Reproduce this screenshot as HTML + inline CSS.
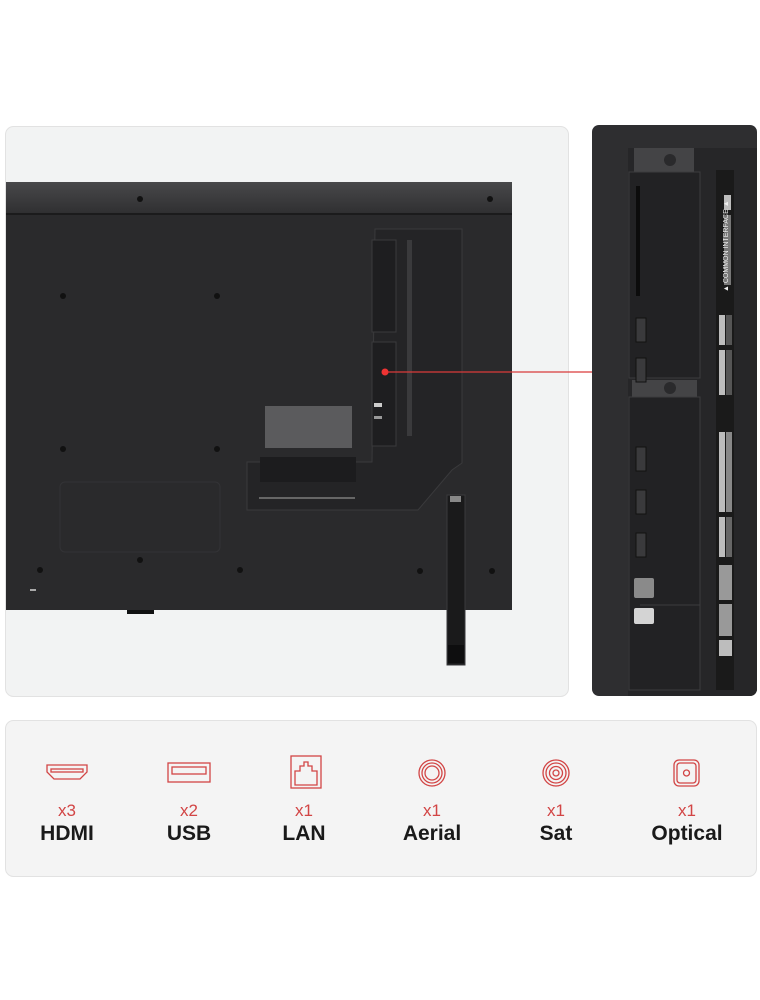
<!DOCTYPE html>
<html><head><meta charset="utf-8"><style>
html,body{margin:0;padding:0;background:#fff;width:760px;height:1000px;overflow:hidden}
svg{display:block}
</style></head><body>
<svg width="760" height="1000" viewBox="0 0 760 1000" xmlns="http://www.w3.org/2000/svg" font-family="Liberation Sans, sans-serif">
<defs>
<linearGradient id="tvtop" x1="0" y1="0" x2="0" y2="1"><stop offset="0" stop-color="#48484a"/><stop offset="1" stop-color="#303032"/></linearGradient>
<clipPath id="rp"><rect x="592" y="125" width="165" height="571" rx="7"/></clipPath>
</defs>
<rect x="5.5" y="126.5" width="563" height="570" rx="8" fill="#f2f3f3" stroke="#e2e2e2"/>
<rect x="6" y="182" width="506" height="428" fill="#2a2a2c"/>
<rect x="6" y="182" width="506" height="31" fill="url(#tvtop)"/>
<rect x="6" y="213" width="506" height="2" fill="#1b1b1c"/>
<g fill="#111">
<circle cx="140" cy="199" r="3"/><circle cx="490" cy="199" r="3"/>
<circle cx="63" cy="296" r="3"/><circle cx="217" cy="296" r="3"/>
<circle cx="63" cy="449" r="3"/><circle cx="217" cy="449" r="3"/>
<circle cx="140" cy="560" r="3"/><circle cx="40" cy="570" r="3"/><circle cx="240" cy="570" r="3"/>
<circle cx="420" cy="571" r="3"/><circle cx="492" cy="571" r="3"/>
</g>
<rect x="60" y="482" width="160" height="70" rx="5" fill="none" stroke="#333336"/>
<rect x="127" y="610" width="27" height="4" fill="#111"/>
<rect x="30" y="589" width="6" height="2" fill="#aaa"/>
<path d="M375 229 H462 V463 L452 470 L418 510 H247 V462 H372 Z" fill="#242426" stroke="#3a3a3c"/>
<rect x="372" y="240" width="24" height="92" fill="#1e1e20" stroke="#3a3a3c"/>
<rect x="372" y="342" width="24" height="104" fill="#1e1e20" stroke="#3a3a3c"/>
<rect x="407" y="240" width="5" height="196" fill="#3a3a3c"/>
<rect x="374" y="403" width="8" height="4" fill="#ccc"/><rect x="374" y="416" width="8" height="3" fill="#999"/>
<rect x="265" y="406" width="87" height="42" fill="#5b5b5d"/>
<rect x="260" y="457" width="96" height="25" fill="#1c1c1e"/>
<rect x="259" y="497" width="96" height="2" fill="#666"/>
<rect x="447" y="495" width="18" height="170" fill="#1a1a1b" stroke="#3a3a3c"/>
<rect x="450" y="496" width="11" height="6" fill="#888"/>
<rect x="448" y="645" width="16" height="18" fill="#0e0e0f"/>
<line x1="385" y1="372" x2="592" y2="372" stroke="#d93a3a" stroke-width="1.2"/>
<circle cx="385" cy="372" r="3.5" fill="#e33"/>
<g clip-path="url(#rp)">
<rect x="592" y="125" width="165" height="571" fill="#2e2e30"/>
<path d="M628 148 H757 V697 H628 Z" fill="#262628"/>
<rect x="634" y="148" width="60" height="24" fill="#444446"/>
<circle cx="670" cy="160" r="6" fill="#2a2a2c"/>
<rect x="629" y="172" width="71" height="206" fill="#222224" stroke="#3c3c3e"/>
<rect x="636" y="186" width="4" height="110" fill="#0c0c0c"/>
<rect x="632" y="380" width="65" height="17" fill="#444446"/>
<circle cx="670" cy="388" r="6" fill="#2a2a2c"/>
<rect x="629" y="397" width="71" height="293" fill="#222224" stroke="#3c3c3e"/>
<line x1="640" y1="605" x2="700" y2="605" stroke="#3c3c3e"/>
<g fill="#3a3a3c" stroke="#111">
<rect x="636" y="318" width="10" height="24"/><rect x="636" y="358" width="10" height="24"/>
<rect x="636" y="447" width="10" height="24"/><rect x="636" y="490" width="10" height="24"/>
<rect x="636" y="533" width="10" height="24"/>
</g>
<rect x="634" y="578" width="20" height="20" rx="2" fill="#8a8a8a"/>
<rect x="634" y="608" width="20" height="16" rx="2" fill="#d4d4d4"/>
<rect x="716" y="170" width="18" height="520" fill="#1a1a1a"/>
<g fill="#bdbdbd">
<rect x="724" y="195" width="7" height="15"/><rect x="724" y="215" width="7" height="70" fill="#777"/>
<rect x="719" y="315" width="6" height="30"/><rect x="726" y="315" width="6" height="30" fill="#555"/>
<rect x="719" y="350" width="6" height="45"/><rect x="726" y="350" width="6" height="45" fill="#555"/>
<rect x="719" y="432" width="6" height="80"/><rect x="726" y="432" width="6" height="80" fill="#888"/>
<rect x="719" y="517" width="6" height="40"/><rect x="726" y="517" width="6" height="40" fill="#666"/>
<rect x="719" y="565" width="13" height="35" fill="#999"/><rect x="719" y="604" width="13" height="32" fill="#999"/>
<rect x="719" y="640" width="13" height="16"/>
</g>
<text transform="translate(728,292) rotate(-90)" font-size="7" fill="#eee">▲ COMMON INTERFACE ▲</text>
</g>
<rect x="5.5" y="720.5" width="751" height="156" rx="8" fill="#f4f4f4" stroke="#e2e2e2"/>
<g fill="none" stroke="#d24545" stroke-width="1.3">
<path d="M47 765 H87 V772 L80 779 H54 L47 772 Z"/><rect x="51" y="769" width="32" height="3"/>
<rect x="168" y="763" width="42" height="19"/><rect x="172" y="767" width="34" height="7"/>
<rect x="291" y="756" width="30" height="32"/><path d="M295 785 V771 H300 V766 H304 V762 H308 V766 H312 V771 H317 V785 Z"/>
<circle cx="432" cy="773" r="13"/><circle cx="432" cy="773" r="10"/><circle cx="432" cy="773" r="7"/>
<circle cx="556" cy="773" r="13"/><circle cx="556" cy="773" r="10"/><circle cx="556" cy="773" r="6.5"/><circle cx="556" cy="773" r="3"/>
<rect x="674" y="760" width="25" height="26" rx="5"/><rect x="677" y="763" width="19" height="20" rx="3"/><circle cx="686.5" cy="773" r="3"/>
</g>
<g text-anchor="middle" fill="#d24545" font-size="17">
<text x="67" y="816">x3</text><text x="189" y="816">x2</text><text x="304" y="816">x1</text>
<text x="432" y="816">x1</text><text x="556" y="816">x1</text><text x="687" y="816">x1</text>
</g>
<g text-anchor="middle" fill="#1a1a1a" font-size="21" font-weight="bold">
<text x="67" y="840">HDMI</text><text x="189" y="840">USB</text><text x="304" y="840">LAN</text>
<text x="432" y="840">Aerial</text><text x="556" y="840">Sat</text><text x="687" y="840">Optical</text>
</g>
</svg>
</body></html>
